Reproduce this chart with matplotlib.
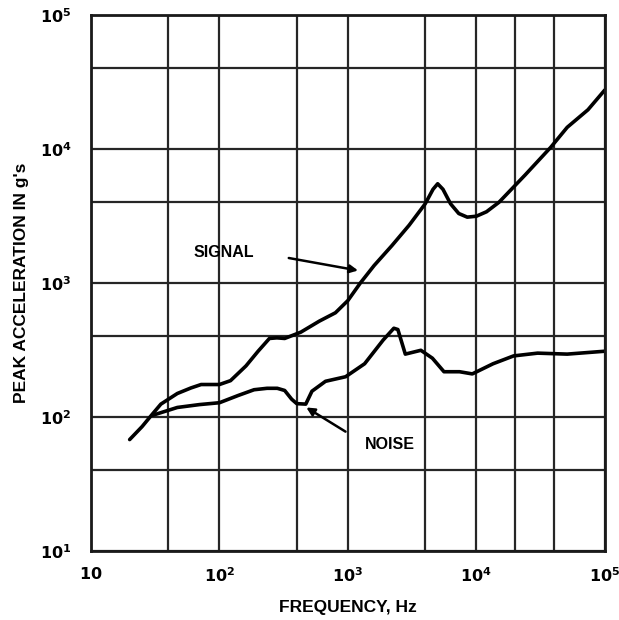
import matplotlib
matplotlib.use("Agg")
import matplotlib.pyplot as plt

# ---- data ----
signal_freq = [20, 25, 30, 35, 47, 60, 72, 100, 122, 161, 200, 245, 280, 322, 430, 600, 800,
               1000, 1250, 1600, 2200, 3000, 4000, 4600, 5000, 5500, 6300, 7300, 8500, 10000,
               12000, 15000, 24000, 38000, 51000, 74000, 100000]
signal_g = [68, 85, 105, 125, 150, 165, 175, 175, 187, 241, 310, 386, 390, 386, 430, 520, 600,
            740, 1000, 1350, 1900, 2700, 3900, 5000, 5500, 5000, 3900, 3300, 3100, 3150,
            3400, 4000, 6400, 10300, 14500, 19600, 27500]

noise_freq = [30, 47, 70, 100, 140, 186, 235, 282, 322, 365, 400, 470, 525, 670, 960,
              1350, 1880, 2280, 2450, 2800, 3700, 4550, 5600, 7400, 9300, 13500, 19500,
              30000, 51000, 100000]
noise_g = [103, 118, 124, 128, 145, 160, 164, 164, 158, 136, 126, 125, 156, 185, 200,
           250, 375, 460, 450, 295, 315, 275, 218, 218, 210, 250, 286, 300, 295, 310]

x_major = [10, 100, 1000, 10000, 100000]
x_minor = [40, 400, 4000, 20000, 40000]
y_major = [10, 100, 1000, 10000, 100000]
y_minor = [40, 400, 4000, 40000]
x_labels = [r"$\mathbf{10}$", r"$\mathbf{10^2}$", r"$\mathbf{10^3}$", r"$\mathbf{10^4}$", r"$\mathbf{10^5}$"]
y_labels = [r"$\mathbf{10^1}$", r"$\mathbf{10^2}$", r"$\mathbf{10^3}$", r"$\mathbf{10^4}$", r"$\mathbf{10^5}$"]

plt.rcParams["font.family"] = ["Liberation Sans", "DejaVu Sans"]
plt.rcParams["mathtext.fontset"] = "dejavusans"

fig = plt.figure(figsize=(6.19, 6.20), dpi=100)
ax = fig.add_axes([0.147, 0.111, 0.830, 0.865])
ax.set_xscale("log")
ax.set_yscale("log")
ax.set_xlim(10, 1e5)
ax.set_ylim(10, 1e5)

ax.set_xticks(x_major)
ax.set_xticks(x_minor, minor=True)
ax.set_yticks(y_major)
ax.set_yticks(y_minor, minor=True)
ax.set_xticklabels(x_labels)
ax.set_yticklabels(y_labels)
ax.set_xticklabels([], minor=True)
ax.set_yticklabels([], minor=True)
ax.tick_params(which="both", length=0)
ax.tick_params(axis="x", pad=11, labelsize=11.5)
ax.tick_params(axis="y", pad=14, labelsize=11.5)
ax.grid(True, which="both", color="#262626", lw=1.6)
ax.set_axisbelow(True)
for s in ax.spines.values():
    s.set_linewidth(2.0)
    s.set_color("#1a1a1a")

ax.plot(signal_freq, signal_g, color="black", lw=2.6, solid_capstyle="round", solid_joinstyle="round")
ax.plot(noise_freq, noise_g, color="black", lw=2.6, solid_capstyle="round", solid_joinstyle="round")

ax.annotate("", xy=(1260, 1230), xytext=(330, 1550),
            arrowprops=dict(arrowstyle="-|>", color="black", lw=1.8, mutation_scale=12))
ax.text(109, 1700, "SIGNAL", ha="center", va="center", fontsize=11.5, fontweight="bold")
ax.annotate("", xy=(455, 121), xytext=(1000, 76),
            arrowprops=dict(arrowstyle="-|>", color="black", lw=1.8, mutation_scale=12))
ax.text(2140, 62, "NOISE", ha="center", va="center", fontsize=11.5, fontweight="bold")

ax.set_xlabel("FREQUENCY, Hz", fontsize=12.5, fontweight="bold", labelpad=11)
ax.set_ylabel("PEAK ACCELERATION IN g's", fontsize=12.5, fontweight="bold", labelpad=8)

fig.savefig("out.png", dpi=100)
